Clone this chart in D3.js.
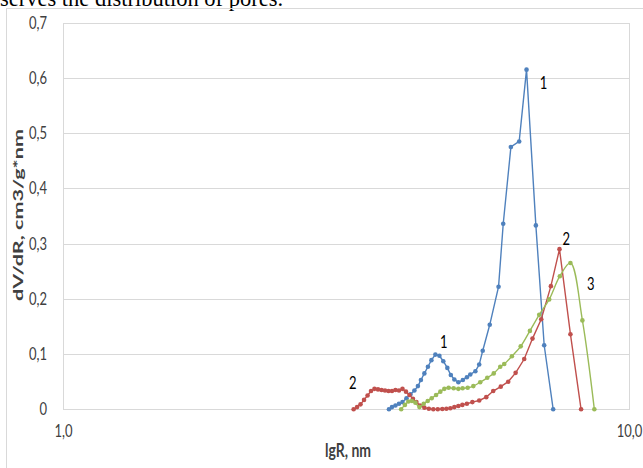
<!DOCTYPE html>
<html>
<head>
<meta charset="utf-8">
<script src="https://cdn.jsdelivr.net/npm/d3@7"></script>
<style>
  html, body { margin: 0; padding: 0; background: #fff; }
  svg { display: block; }
</style>
</head>
<body>
<svg id="chart" width="643" height="468"></svg>
<script>
// ---- data (R in nm, dV/dR in cm3/g*nm) ----
const s1R = [3.766,3.813,3.867,3.923,3.979,4.044,4.110,4.177,4.237,4.289,4.350,4.413,4.476,4.549,4.624,4.698,4.776,4.844,4.914,4.995,5.087,5.171,5.243,5.353,5.437,5.515,5.675,5.882,5.995,6.185,6.397,6.591,6.846,7.082,7.346];
const s1V = [0,0.004,0.007,0.010,0.013,0.020,0.027,0.034,0.042,0.053,0.065,0.077,0.089,0.099,0.097,0.087,0.075,0.062,0.054,0.049,0.053,0.058,0.063,0.069,0.081,0.106,0.153,0.222,0.336,0.475,0.485,0.615,0.333,0.116,0];

const s2R = [3.262,3.308,3.355,3.403,3.452,3.501,3.551,3.602,3.654,3.706,3.759,3.813,3.867,3.923,3.979,4.036,4.093,4.152,4.211,4.272,4.350,4.430,4.511,4.594,4.679,4.757,4.835,4.914,4.995,5.077,5.171,5.288,5.437,5.595,5.756,5.935,6.118,6.305,6.530,6.753,6.997,7.278,7.537,7.880,8.229];
const s2V = [0,0.004,0.009,0.017,0.025,0.033,0.037,0.036,0.035,0.034,0.033,0.033,0.035,0.034,0.037,0.032,0.026,0.019,0.013,0.007,0.003,0.001,0,0,0.0005,0.001,0.002,0.004,0.006,0.008,0.010,0.013,0.016,0.022,0.033,0.041,0.050,0.066,0.091,0.128,0.163,0.223,0.290,0.136,0];

const s3R = [3.958,4.019,4.076,4.135,4.194,4.263,4.338,4.409,4.481,4.562,4.642,4.718,4.801,4.900,4.995,5.082,5.188,5.309,5.459,5.618,5.768,5.923,6.020,6.210,6.437,6.682,6.940,7.228,7.547,7.880,8.273,8.685];
const s3V = [0,0.008,0.014,0.015,0.012,0.004,0.010,0.015,0.020,0.026,0.032,0.037,0.039,0.038,0.037,0.038,0.039,0.042,0.049,0.057,0.065,0.077,0.082,0.096,0.114,0.142,0.171,0.199,0.241,0.265,0.161,0];

const seriesNames = ["1","2","3"];
const seriesColors = ["#4f81bd","#c0504d","#9bbb59"];

const xTicks = [1, 10];
const yTicks = [0,0.1,0.2,0.3,0.4,0.5,0.6,0.7];

// curve labels: text, R, value
const labelText = ["1","1","2","2","3"];
const labelR = [7.06, 4.705, 3.25, 7.75, 8.56];
const labelV = [0.591, 0.122, 0.047, 0.309, 0.227];

const xTitle = "lgR, nm";
const yTitle = "dV/dR, cm3/g*nm";
const topText = "serves the distribution of pores.";

// ---- drawing ----
(function () {
const svg = d3.select("#chart");
const pLeft = 63, pRight = 629, pTop = 22.7, pBottom = 409.3;
const stretch = 1.3;   // text in the reference looks vertically stretched

const x = d3.scaleLog().domain([1, 10]).range([pLeft, pRight]);
const y = d3.scaleLinear().domain([0, 0.7]).range([pBottom, pTop]);

svg.append("rect").attr("width", 643).attr("height", 468).attr("fill", "#fff");

// cut-off text line above the chart
svg.append("text").attr("x", 0).attr("y", 6)
  .attr("font-family", "'Liberation Serif', 'Times New Roman', serif")
  .attr("font-size", 22.5).attr("fill", "#000").text(topText);

// outer chart frame
svg.append("rect").attr("x", 6.5).attr("y", 8.5).attr("width", 645).attr("height", 470)
  .attr("fill", "none").attr("stroke", "#d9d9d9").attr("stroke-width", 1);

// gridlines
svg.append("g").selectAll("line").data(yTicks).join("line")
  .attr("x1", pLeft).attr("x2", pRight)
  .attr("y1", d => Math.round(y(d)) + 0.5).attr("y2", d => Math.round(y(d)) + 0.5)
  .attr("stroke", "#d9d9d9").attr("stroke-width", 1);

// plot area border
svg.append("rect").attr("x", pLeft + 0.5).attr("y", Math.round(pTop) + 0.5)
  .attr("width", pRight - pLeft).attr("height", Math.round(pBottom) - Math.round(pTop))
  .attr("fill", "none").attr("stroke", "#d9d9d9").attr("stroke-width", 1);

const fontUI = "Lato, 'Open Sans', sans-serif";
const fmtY = d => d === 0 ? "0" : d3.format(".1f")(d).replace(".", ",");
const fmtX = d => d3.format(".1f")(d).replace(".", ",");

// y axis (no domain line, no ticks)
const yAxis = svg.append("g").attr("transform", `translate(${pLeft},0)`)
  .call(d3.axisLeft(y).tickValues(yTicks).tickFormat(fmtY).tickSize(0).tickPadding(16));
yAxis.select(".domain").remove();
yAxis.selectAll("text").attr("font-family", fontUI).attr("font-size", 13).attr("fill", "#404040")
  .attr("transform", `scale(1,${stretch})`);

// x axis
const xAxis = svg.append("g").attr("transform", `translate(0,${pBottom})`)
  .call(d3.axisBottom(x).tickValues(xTicks).tickFormat(fmtX).tickSize(0).tickPadding(12));
xAxis.select(".domain").remove();
xAxis.selectAll("text").attr("font-family", fontUI).attr("font-size", 13).attr("fill", "#404040")
  .attr("transform", `scale(1,${stretch})`);

// axis titles
svg.append("text").attr("transform", `translate(${(pLeft + pRight) / 2 + 2},457) scale(1,${stretch})`)
  .attr("text-anchor", "middle").attr("font-family", fontUI).attr("font-weight", "bold")
  .attr("font-size", 14).attr("fill", "#404040").text(xTitle);
svg.append("text").attr("transform", `translate(23,215) rotate(-90) scale(1.6,1)`)
  .attr("text-anchor", "middle").attr("font-family", fontUI).attr("font-weight", "bold")
  .attr("font-size", 13.5).attr("fill", "#404040").text(yTitle);

// series
const series = [
  {R: s1R, V: s1V, curve: d3.curveLinear},
  {R: s2R, V: s2V, curve: d3.curveLinear},
  {R: s3R, V: s3V, curve: d3.curveCatmullRom.alpha(0.5)}
];

series.forEach((s, i) => {
  const pts = s.R.map((r, k) => [r, s.V[k]]);
  const line = d3.line().x(d => x(d[0])).y(d => y(d[1])).curve(s.curve);
  const g = svg.append("g").attr("class", "series-" + seriesNames[i]);
  g.append("path").attr("d", line(pts)).attr("fill", "none")
    .attr("stroke", seriesColors[i]).attr("stroke-width", 1.4);
  g.selectAll("circle").data(pts).join("circle")
    .attr("cx", d => x(d[0])).attr("cy", d => y(d[1])).attr("r", 2.3)
    .attr("fill", seriesColors[i]);
});

// curve labels
svg.append("g").selectAll("text").data(labelText).join("text")
  .attr("transform", (d, i) => `translate(${x(labelR[i])},${y(labelV[i])}) scale(1,${stretch})`)
  .attr("dy", "0.35em").attr("text-anchor", "middle")
  .attr("font-family", fontUI).attr("font-size", 13).attr("fill", "#000")
  .text(d => d);
})();
</script>
</body>
</html>
